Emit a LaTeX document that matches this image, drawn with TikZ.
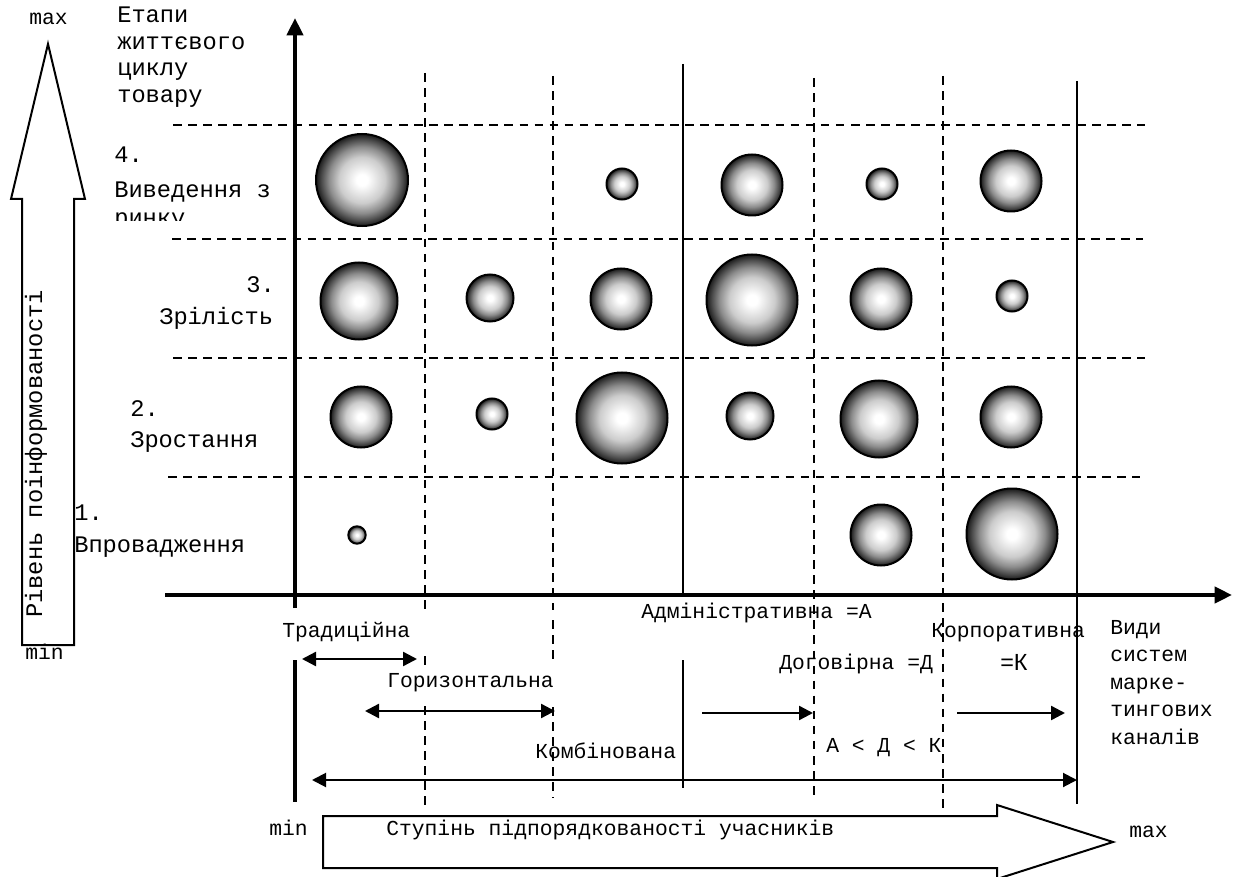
\documentclass[tikz,border=0pt]{standalone}
\usepackage{fontspec}
\setmainfont{Liberation Mono}
\newfontfamily\letterfont{Liberation Sans}
\usetikzlibrary{arrows.meta}

% sphere-like fill of the bubbles: light centre, dark rim (the rim of a shaded path lies at 25bp)
\pgfdeclareradialshading{bubbleshade}{\pgfpoint{0bp}{0bp}}{%
  color(0bp)=(white); color(3bp)=(white); color(12.5bp)=(black!20);
  color(18bp)=(black!45); color(22bp)=(black!70); color(25bp)=(black!90); color(50bp)=(black!90)}

\tikzset{
  lbl/.style={inner sep=0pt, anchor=base west, font=\fontsize{16pt}{19pt}\selectfont},
  lblL/.style={inner sep=0pt, anchor=base west, font=\fontsize{17.8pt}{20pt}\selectfont},
  grid/.style={line width=1.5pt, dash pattern=on 6.4pt off 4.9pt},
  divider/.style={line width=1.5pt},
  axis/.style={line width=3pt, -{Triangle[length=13pt,width=12pt]}},
  span/.style={line width=1.8pt, {Triangle[length=10.5pt,width=10.5pt]}-{Triangle[length=10.5pt,width=10.5pt]}},
  ray/.style={line width=1.8pt, -{Triangle[length=10.5pt,width=10.5pt]}},
  outline/.style={line width=1.5pt, fill=white},
  bubble/.style={circle, draw=black, line width=1.5pt, inner sep=0pt, shade, shading=bubbleshade},
}
\newcommand\bubbleat[4]{\node[bubble, minimum size=#4*1.5pt] (#1) at (#2,#3) {};}

\begin{document}
\begin{tikzpicture}[x=0.75pt,y=-0.75pt]
\useasboundingbox (0,0) rectangle (1235,877);

% ---- big hollow arrows: information level and subordination degree
\draw[outline] (22,645) -- (22,199) -- (11,199) -- (48,44) -- (85,199) -- (74,199) -- (74,645) -- cycle;
\draw[outline] (323,816) -- (997,816) -- (997,805) -- (1113,842) -- (997,879) -- (997,868) -- (323,868) -- cycle;

% ---- grid of the matrix
\draw[grid] (173,125) -- (1145,125);
\draw[grid] (172,239) -- (1143,239);
\draw[grid] (173,358) -- (1145,358);
\draw[grid] (168,477) -- (1140,477);

\draw[grid] (425,73) -- (425,610);
\draw[grid] (425,656) -- (425,666);
\draw[grid] (425,706) -- (425,805);
\draw[grid] (553,76) -- (553,610);
\draw[grid] (553,620) -- (553,665);
\draw[grid] (553,707) -- (553,798);
\draw[grid] (814,78) -- (814,800);
\draw[grid] (943,76) -- (943,810);

\draw[divider] (683,64) -- (683,595);
\draw[divider] (683,660) -- (683,788);
\draw[divider] (1077,81) -- (1077,804);
\draw[line width=3pt] (295,660) -- (295,802);

% ---- axes
\coordinate (yaxis0) at (295,608);
\coordinate (yaxis1) at (295,18);
\coordinate (xaxis0) at (165,595);
\coordinate (xaxis1) at (1232,595);
\draw[axis] (yaxis0) -- (yaxis1);
\draw[axis] (xaxis0) -- (xaxis1);

% ---- bubbles, row by row from the top
\bubbleat{b41}{362}{180}{46}
\bubbleat{b43}{622}{184}{15.5}
\bubbleat{b44}{752}{185}{30.5}
\bubbleat{b45}{882}{184}{15.5}
\bubbleat{b46}{1011}{181}{30.5}

\bubbleat{b31}{359}{301}{38.5}
\bubbleat{b32}{490}{298}{23.5}
\bubbleat{b33}{621}{299}{30.5}
\bubbleat{b34}{752}{300}{45.5}
\bubbleat{b35}{881}{299}{30.5}
\bubbleat{b36}{1012}{296}{15.5}

\bubbleat{b21}{361}{417}{30.5}
\bubbleat{b22}{492}{414}{15.5}
\bubbleat{b23}{622}{418}{45.5}
\bubbleat{b24}{750}{416}{23.5}
\bubbleat{b25}{879}{419}{38.5}
\bubbleat{b26}{1011}{417}{30.5}

\bubbleat{b11}{357}{535}{8.7}
\bubbleat{b15}{881}{535}{30.5}
\bubbleat{b16}{1012}{534}{45.5}

% ---- channel ranges
\coordinate (trad0) at (302,659);  \coordinate (trad1) at (417,659);
\coordinate (hor0) at (365,711);   \coordinate (hor1) at (555,711);
\coordinate (comb0) at (312,780);  \coordinate (comb1) at (1077,780);
\coordinate (adm0) at (702,713);   \coordinate (adm1) at (813,713);
\coordinate (corp0) at (957,713);  \coordinate (corp1) at (1065,713);
\draw[span] (trad0) -- (trad1);
\draw[span] (hor0) -- (hor1);
\draw[span, line width=1.5pt] (comb0) -- (comb1);
\draw[ray] (adm0) -- (adm1);
\draw[ray] (corp0) -- (corp1);

% ---- labels of the vertical scale
\node[lbl] (ymax) at (29,25) {max};
\node[lbl] (ymin) at (25,659) {min};
\node[lblL, rotate=90] (ylabel) at (42,618) {Рівень поінформованості};

\node[lblL] (st1) at (117,23) {Етапи};
\node[lblL] (st2) at (117,49.5) {життєвого};
\node[lblL] (st3) at (117,76) {циклу};
\node[lblL] (st4) at (117,102.5) {товару};

\node[lblL] (s4a) at (114,163) {4.};
\node[lblL] (s4b) at (114,198) {Виведення з};
\begin{scope}
  \clip (100,130) rectangle (290,221);
  \node[lblL] (s4c) at (114,226) {ринку};
\end{scope}
\node[lblL] (s3a) at (246,293) {3.};
\node[lblL] (s3b) at (159,325) {Зрілість};
\node[lblL] (s2a) at (130,416) {2.};
\node[lblL] (s2b) at (130,447) {Зростання};
\node[lblL] (s1a) at (74,520) {1.};
\node[lblL] (s1b) at (74,552) {Впровадження};

% ---- labels of the channel types
\node[lbl] (ltrad) at (282,637) {Традиційна};
\node[lbl] (lhor) at (387,687) {Горизонтальна};
\node[lbl] (lcomb) at (535,758) {Комбінована};
\node[lbl] (ladm) at (641,618) {Адміністративна =А};
\node[lbl] (ldog) at (779,669) {Договірна =Д};
\node[lbl] (lcorp) at (931,637) {Корпоративна};
\node[inner sep=0pt, anchor=base west, font=\letterfont\fontsize{17.5pt}{20pt}\selectfont] (lk) at (1000,670) {=К};
\node[lbl] (lorder) at (826,752) {А < Д < К};

\node[lbl] (v1) at (1110,634) {Види};
\node[lbl] (v2) at (1110,661) {систем};
\node[lbl] (v3) at (1110,689) {марке-};
\node[lbl] (v4) at (1110,716) {тингових};
\node[lbl] (v5) at (1110,744) {каналів};

% ---- labels of the horizontal scale
\node[lbl] (xmin) at (269,835) {min};
\node[lbl] (xlabel) at (386,835) {Ступінь підпорядкованості учасників};
\node[lbl] (xmax) at (1129,837) {max};
\end{tikzpicture}
\end{document}
